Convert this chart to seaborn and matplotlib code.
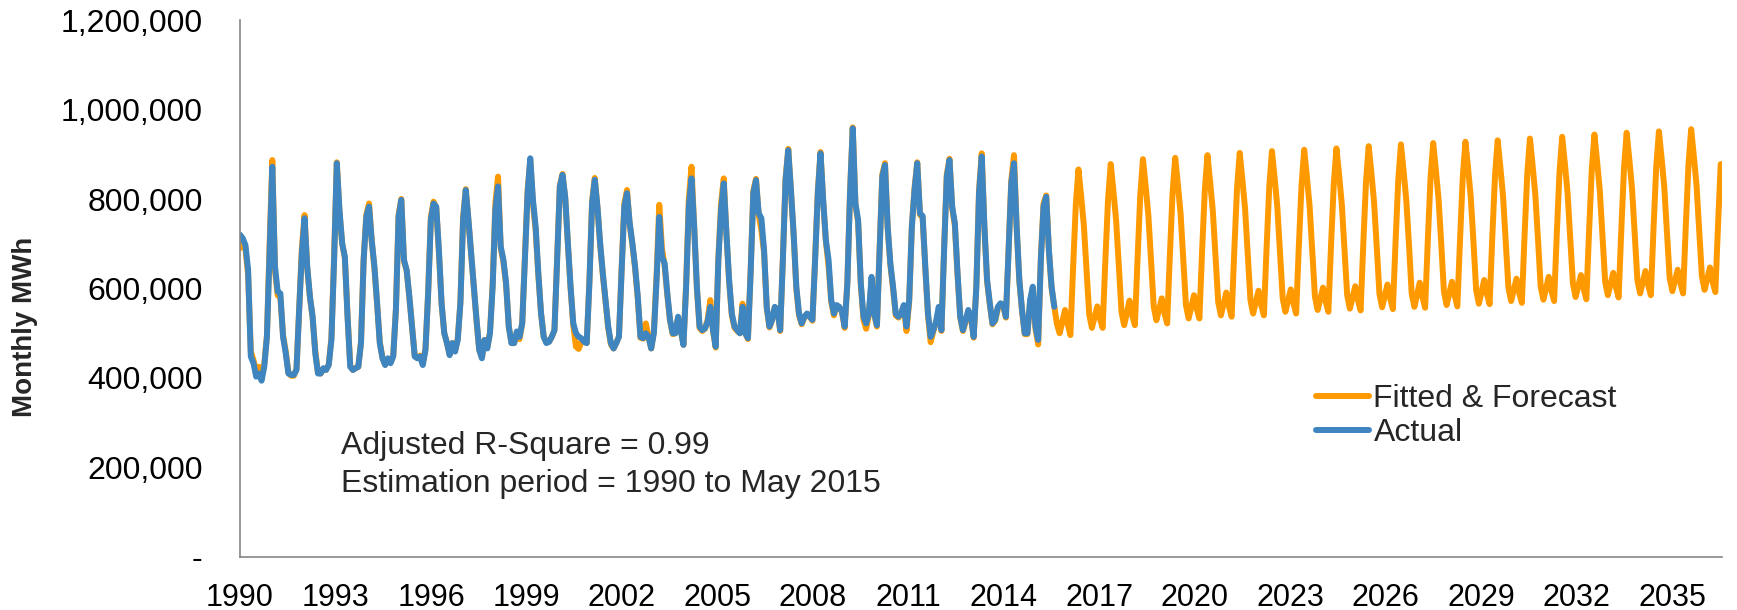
import numpy as np
import pandas as pd
import matplotlib
matplotlib.use('Agg')
import matplotlib.pyplot as plt
from matplotlib.ticker import FuncFormatter
import seaborn as sns

# Monthly energy in thousand MWh, one row per year (Jan..Dec)
FITTED_K = [
    [690, 705, 690, 630, 460, 440, 415, 425, 400, 430, 495, 700],  # 1990
    [887, 640, 585, 580, 495, 460, 412, 405, 405, 420, 555, 690],
    [764, 645, 580, 535, 460, 412, 410, 420, 418, 430, 490, 670],
    [882, 770, 700, 668, 540, 428, 418, 422, 425, 480, 668, 765],
    [790, 705, 645, 565, 480, 445, 430, 443, 435, 450, 555, 765],
    [800, 660, 640, 580, 515, 450, 445, 450, 432, 465, 592, 760],  # 1995
    [794, 780, 680, 565, 500, 478, 452, 478, 460, 487, 570, 760],
    [822, 750, 675, 600, 528, 463, 446, 485, 468, 502, 610, 790],
    [850, 690, 660, 608, 515, 478, 478, 500, 487, 522, 670, 820],
    [885, 790, 730, 630, 545, 492, 480, 481, 492, 507, 668, 830],
    [856, 800, 698, 600, 518, 470, 465, 480, 481, 478, 615, 795],  # 2000
    [847, 780, 698, 630, 570, 512, 475, 466, 478, 493, 645, 790],
    [820, 742, 698, 645, 578, 490, 488, 522, 492, 466, 505, 630],
    [787, 690, 650, 585, 528, 498, 500, 535, 507, 474, 610, 800],
    [872, 735, 600, 512, 505, 510, 530, 574, 505, 468, 670, 790],
    [846, 720, 615, 540, 512, 505, 500, 566, 500, 487, 640, 818],  # 2005
    [845, 765, 730, 680, 556, 513, 530, 558, 552, 505, 668, 846],
    [912, 818, 720, 600, 540, 520, 535, 543, 537, 528, 668, 818],
    [905, 795, 705, 650, 570, 540, 560, 558, 548, 512, 615, 818],
    [960, 787, 748, 608, 530, 510, 542, 615, 542, 515, 690, 855],
    [880, 735, 652, 600, 540, 535, 544, 560, 505, 570, 740, 825],  # 2010
    [882, 765, 758, 645, 540, 480, 505, 524, 545, 505, 690, 855],
    [890, 780, 740, 630, 535, 505, 525, 545, 535, 490, 608, 820],
    [902, 735, 615, 565, 520, 528, 555, 565, 560, 535, 690, 842],
    [898, 735, 615, 550, 498, 498, 570, 598, 510, 475, 668, 790],
    [808, 683, 600, 560, 520, 500, 526, 552, 520, 496, 646, 786],  # 2015
    [866, 806, 741, 641, 542, 512, 536, 560, 532, 512, 662, 798],
    [878, 818, 753, 653, 548, 518, 545, 573, 540, 518, 668, 809],
    [889, 829, 764, 664, 559, 529, 553, 578, 545, 522, 672, 812],
    [892, 832, 767, 667, 563, 533, 559, 585, 555, 533, 683, 818],
    [898, 838, 773, 673, 570, 540, 565, 591, 560, 537, 687, 823],  # 2020
    [903, 843, 778, 678, 574, 544, 570, 595, 563, 540, 690, 827],
    [907, 847, 782, 682, 578, 548, 573, 598, 567, 544, 694, 830],
    [910, 850, 785, 685, 582, 552, 577, 602, 571, 548, 698, 833],
    [913, 853, 788, 688, 585, 555, 580, 605, 574, 551, 701, 838],
    [918, 858, 793, 693, 588, 558, 584, 609, 578, 554, 704, 842],  # 2025
    [922, 862, 797, 697, 589, 559, 586, 613, 581, 557, 707, 845],
    [925, 865, 800, 700, 593, 563, 589, 615, 584, 560, 710, 848],
    [928, 868, 803, 703, 596, 566, 593, 619, 588, 565, 715, 851],
    [931, 871, 806, 706, 602, 572, 597, 622, 591, 568, 718, 855],
    [935, 875, 810, 710, 605, 575, 601, 626, 595, 572, 722, 859],  # 2030
    [939, 879, 814, 714, 611, 581, 606, 630, 599, 576, 726, 864],
    [944, 884, 819, 719, 615, 585, 610, 635, 603, 580, 730, 868],
    [948, 888, 823, 723, 619, 589, 614, 639, 608, 585, 735, 871],
    [951, 891, 826, 726, 624, 594, 618, 642, 612, 589, 739, 876],
    [956, 896, 831, 731, 627, 597, 622, 647, 615, 592, 742, 878],  # 2035
]

ACTUAL_K = [
    [720, 712, 697, 641, 448, 433, 403, 410, 394, 425, 492, 686],  # 1990
    [872, 649, 593, 589, 492, 455, 410, 407, 407, 418, 552, 679],
    [757, 649, 582, 537, 455, 410, 410, 422, 418, 429, 485, 664],
    [880, 775, 701, 671, 537, 425, 418, 422, 425, 478, 664, 761],
    [783, 708, 649, 567, 478, 444, 429, 444, 433, 448, 552, 761],
    [798, 664, 641, 582, 515, 448, 444, 448, 429, 463, 589, 753],  # 1995
    [790, 783, 686, 567, 500, 478, 451, 478, 459, 485, 567, 753],
    [820, 753, 679, 604, 530, 463, 444, 485, 466, 500, 604, 775],
    [828, 694, 664, 612, 515, 478, 478, 504, 492, 522, 664, 813],
    [891, 798, 738, 634, 545, 492, 478, 481, 492, 507, 664, 828],
    [854, 805, 701, 604, 522, 500, 492, 489, 481, 478, 612, 790],  # 2000
    [843, 783, 701, 634, 574, 515, 478, 466, 478, 492, 641, 783],
    [813, 746, 701, 649, 582, 492, 489, 500, 492, 466, 500, 619],
    [760, 671, 656, 589, 530, 500, 500, 537, 507, 474, 604, 783],
    [846, 738, 604, 515, 507, 511, 526, 559, 507, 470, 664, 775],
    [835, 723, 619, 544, 515, 507, 500, 559, 500, 489, 634, 813],  # 2005
    [842, 768, 757, 686, 559, 515, 530, 559, 552, 507, 664, 842],
    [909, 820, 723, 604, 544, 522, 537, 544, 537, 530, 664, 813],
    [902, 798, 708, 664, 574, 544, 563, 559, 548, 515, 611, 813],
    [958, 790, 753, 612, 537, 522, 544, 626, 544, 518, 686, 850],
    [876, 738, 656, 604, 544, 537, 544, 563, 515, 574, 738, 820],  # 2010
    [880, 768, 762, 649, 544, 492, 507, 526, 559, 507, 686, 850],
    [887, 783, 746, 634, 537, 507, 530, 552, 537, 492, 604, 813],
    [895, 738, 619, 567, 522, 530, 559, 567, 563, 537, 686, 835],
    [880, 738, 619, 552, 500, 500, 574, 604, 515, 485, 664, 783],
    [805, 686, 604, 559],                                          # 2015 (to spring)
]

TICK_YEARS = list(range(1990, 2036, 3))
SERIES = ['Fitted & Forecast', 'Actual']
COLORS = ['#FF9900', '#3F85C0']
NOTES = ['Adjusted R-Square = 0.99', 'Estimation period = 1990 to May 2015']

fitted = np.concatenate(FITTED_K) * 1000
actual = np.concatenate(ACTUAL_K) * 1000

df = pd.concat([
    pd.DataFrame({'month': np.arange(len(fitted)), 'mwh': fitted, 'series': SERIES[0]}),
    pd.DataFrame({'month': np.arange(len(actual)), 'mwh': actual, 'series': SERIES[1]}),
], ignore_index=True)

sns.set_theme(style='white')
plt.rcParams['font.family'] = ['Liberation Sans', 'DejaVu Sans']

fig = plt.figure(figsize=(17.37, 6.10), dpi=100)
ax = fig.add_axes([0.1382, 0.0869, 0.8532, 0.8803])

sns.lineplot(data=df, x='month', y='mwh', hue='series', hue_order=SERIES,
             palette=COLORS, linewidth=4.3, estimator=None, sort=False, ax=ax,
             solid_joinstyle='round', solid_capstyle='round')

ax.set_xlim(0, 551.5)
ax.set_ylim(0, 1200000)
ax.set_yticks(np.arange(0, 1200001, 200000))
ax.yaxis.set_major_formatter(FuncFormatter(lambda v, p: '-' if v == 0 else f'{v:,.0f}'))

# Excel spaced the year labels a little tighter than the month grid
ax.set_xticks(np.linspace(0, 533, len(TICK_YEARS)))
ax.set_xticklabels([str(y) for y in TICK_YEARS])

ax.tick_params(axis='both', length=0, labelsize=23, colors='black')
ax.tick_params(axis='y', pad=27)
ax.tick_params(axis='x', labelsize=22, pad=19)
ax.set_xlabel('')
ax.set_ylabel('')
fig.text(25 / 1737, 1 - 327 / 610, 'Monthly MWh', rotation=90, ha='center', va='center',
         fontsize=20, fontweight='bold')

for side in ['top', 'right']:
    ax.spines[side].set_visible(False)
for side in ['left', 'bottom']:
    ax.spines[side].set_color('#868686')
    ax.spines[side].set_linewidth(1.2)

ax.text(0.068, 0.207, NOTES[0], transform=ax.transAxes, fontsize=23, va='center')
ax.text(0.068, 0.136, NOTES[1], transform=ax.transAxes, fontsize=23, va='center')

sns.move_legend(ax, 'center left', bbox_to_anchor=(0.726, 0.262), title=None, frameon=False,
                fontsize=23, handlelength=1.65, handletextpad=0.15, labelspacing=0.12,
                borderpad=0, borderaxespad=0)
for h in ax.get_legend().legend_handles:
    h.set_linewidth(4.3)

fig.savefig('out.png', dpi=100)
